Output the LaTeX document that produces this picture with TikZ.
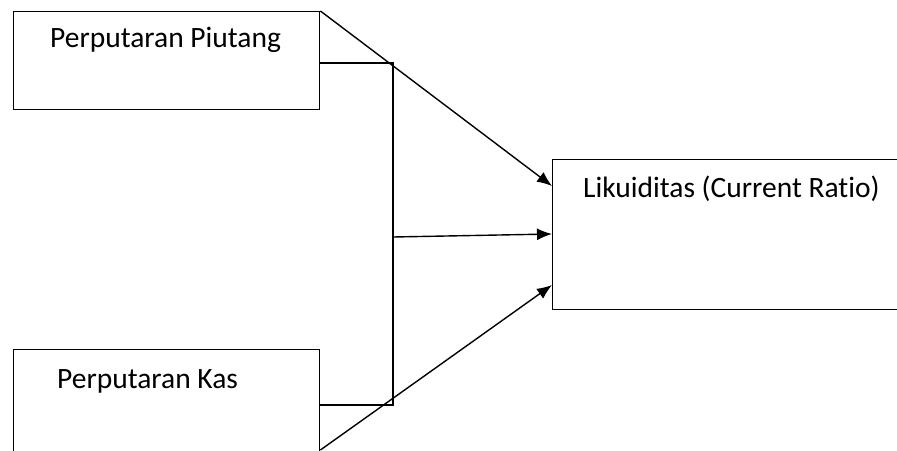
\documentclass[tikz,border=0pt]{standalone}
\usepackage{fontspec}
\setmainfont{Carlito}[Ligatures=NoCommon]
\usetikzlibrary{positioning, arrows.meta}
\tikzset{
    box/.style = {draw, rectangle, line width=1.4pt, anchor=north west,
        inner sep=0pt},
    lbl/.style = {anchor=base west, inner sep=0pt,
        font=\fontsize{29.5}{34}\selectfont},
    link/.style = {line width=1.4pt},
    pfeil/.style = {link, -{Latex[length=15pt, width=12pt]}}
}

\begin{document}
\begin{tikzpicture}[x=1pt, y=-1pt]
        \clip (0,0) rectangle (897,450);
        \fill[white] (0,0) rectangle (897,450);

        % kotak
        \node[box, minimum width=306pt, minimum height=98pt]
            (piutang) at (13,11) {};
        \node[box, minimum width=306pt, minimum height=112pt]
            (kas) at (13,349) {};
        \node[box, minimum width=360pt, minimum height=150pt]
            (likuid) at (552,159) {};

        \node[lbl] (tpiutang) at (50,47) {Perputaran Piutang};
        \node[lbl] (tkas) at (57,388) {Perputaran Kas};
        \node[lbl] (tlikuid) at (583,197) {Likuiditas (Current Ratio)};

        % titik sambung
        \coordinate (jt) at (393,63);
        \coordinate (jm) at (393,237);
        \coordinate (jb) at (393,405);

        \draw[link] ([yshift=-52pt]piutang.north east) -- (jt) -- (jb)
            -- ([yshift=-56pt]kas.north east);
        \draw[pfeil] (piutang.north east) -- ([yshift=-27pt]likuid.north west);
        \draw[pfeil] (jm) -- ([yshift=-75pt]likuid.north west);
        \draw[pfeil] ([yshift=-101pt]kas.north east)
            -- ([yshift=-126pt]likuid.north west);
    \end{tikzpicture}
\end{document}
